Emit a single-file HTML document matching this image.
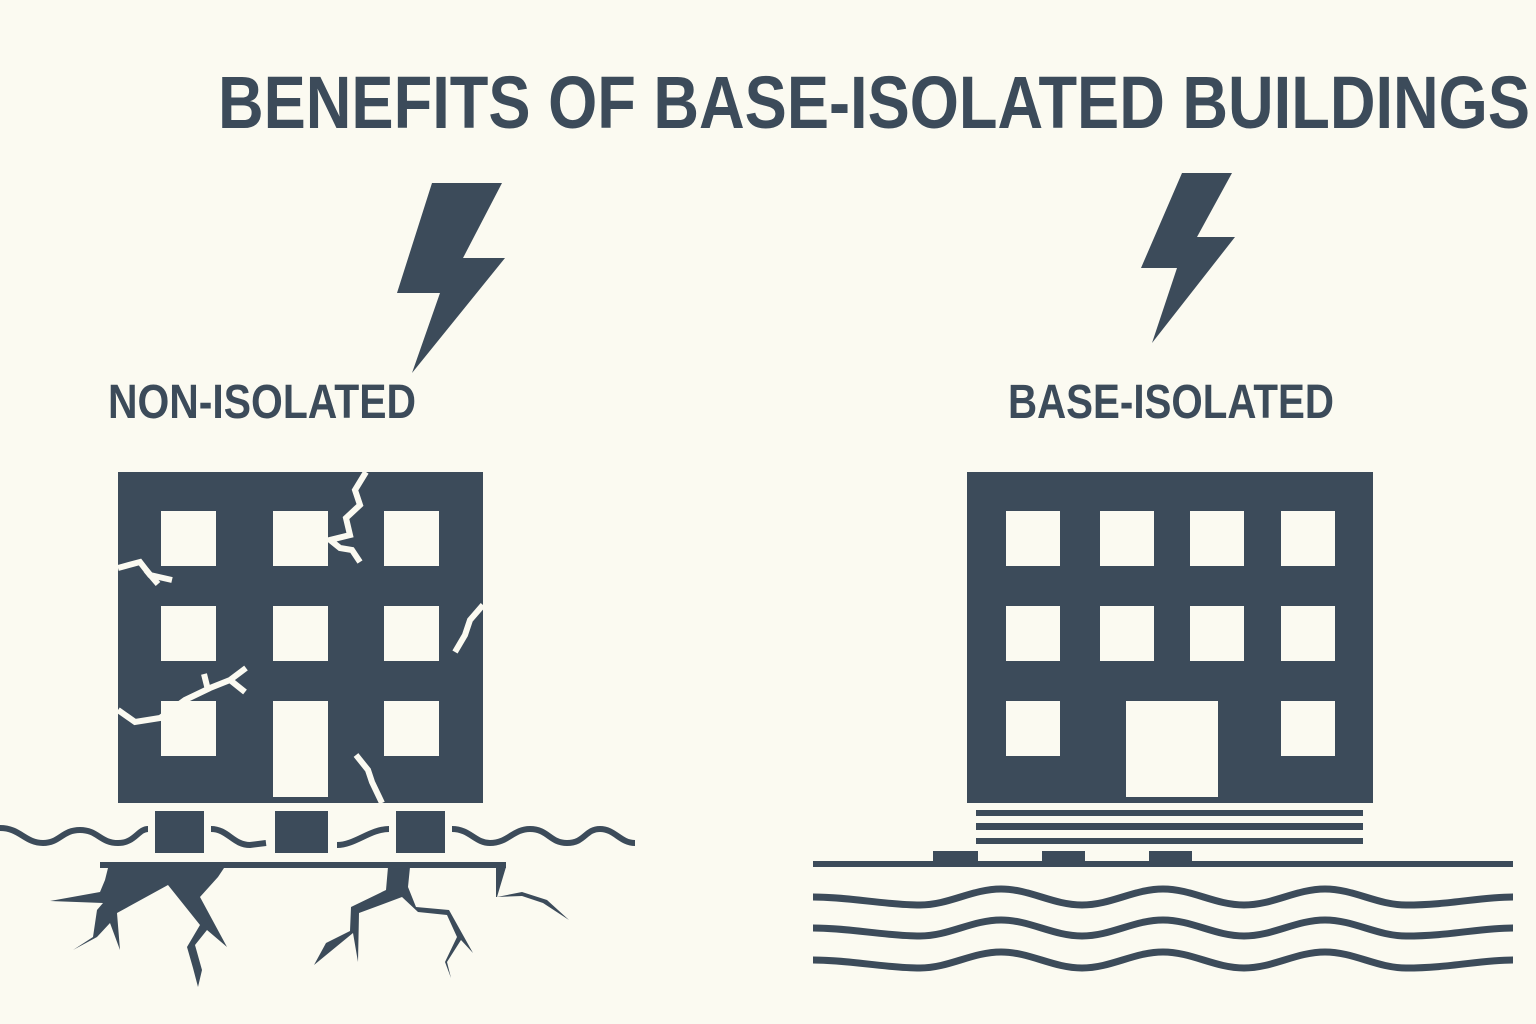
<!DOCTYPE html>
<html><head><meta charset="utf-8"><style>
html,body{margin:0;padding:0;background:#fbfaf1;}
svg{display:block}
</style></head><body>
<svg width="1536" height="1024" viewBox="0 0 1536 1024" xmlns="http://www.w3.org/2000/svg">
<rect width="1536" height="1024" fill="#fbfaf1"/>
<g fill="#3c4b5a" font-family="Liberation Sans, sans-serif" font-weight="bold">
<text x="218" y="128" font-size="74" textLength="1312" lengthAdjust="spacingAndGlyphs">BENEFITS OF BASE-ISOLATED BUILDINGS</text>
<text x="108" y="418" font-size="48" textLength="308" lengthAdjust="spacingAndGlyphs">NON-ISOLATED</text>
<text x="1008" y="418" font-size="48" textLength="326" lengthAdjust="spacingAndGlyphs">BASE-ISOLATED</text>
</g>
<g fill="#3c4b5a">
<polygon points="432,183 502,183 463,258 505,258 412,373 440,293 397,293"/>
<polygon points="1182,173 1232,173 1197,237 1235,237 1152,343 1177,268 1141,268"/>
<rect x="118" y="472" width="365" height="331"/>
<rect x="967" y="472" width="406" height="331"/>
</g>
<g fill="#fbfaf1">
<rect x="161" y="511" width="55" height="55"/><rect x="273" y="511" width="55" height="55"/><rect x="384" y="511" width="55" height="55"/>
<rect x="161" y="606" width="55" height="55"/><rect x="273" y="606" width="55" height="55"/><rect x="384" y="606" width="55" height="55"/>
<rect x="161" y="701" width="55" height="55"/><rect x="273" y="701" width="55" height="96"/><rect x="384" y="701" width="55" height="55"/>
<rect x="1006" y="511" width="54" height="55"/><rect x="1100" y="511" width="54" height="55"/><rect x="1190" y="511" width="54" height="55"/><rect x="1281" y="511" width="54" height="55"/>
<rect x="1006" y="606" width="54" height="55"/><rect x="1100" y="606" width="54" height="55"/><rect x="1190" y="606" width="54" height="55"/><rect x="1281" y="606" width="54" height="55"/>
<rect x="1006" y="701" width="54" height="55"/><rect x="1126" y="701" width="92" height="96"/><rect x="1281" y="701" width="54" height="55"/>
</g>
<g fill="none" stroke="#fbfaf1" stroke-width="6">
<polyline points="366,472 355,490 360,505 346,518 350,535 330,540 340,548 352,550 360,562"/>
<polyline points="118,568 140,562 150,575 172,580"/>
<polyline points="146,570 158,584"/>
<polyline points="483,605 470,620 465,635 455,652"/>
<polyline points="118,710 135,722 160,718 185,700 210,688 230,680 246,668"/>
<polyline points="230,680 245,692"/>
<polyline points="208,690 204,674"/>
<polyline points="356,755 368,770 372,782 382,803"/>
</g>
<g fill="#3c4b5a">
<rect x="155" y="811" width="49" height="42"/>
<rect x="275" y="811" width="53" height="42"/>
<rect x="396" y="811" width="49" height="42"/>
<rect x="100" y="862" width="406" height="6"/>
<polygon points="108,868 224,868 218,877 200,897 227,947 207,930 195,945 202,970 198,987 193,968 187,947 200,925 168,885 117,913 120,950 110,923 97,937 73,950 93,937 97,910 103,903 50,901 100,892 105,880"/>
<polygon points="388,867 410,867 408,887 416,907 449,910 473,953 461,940 447,962 451,978 445,962 457,937 447,915 418,912 402,897 359,913 358,962 353,933 314,965 326,943 350,931 351,907 386,890"/>
<polygon points="496,867 506,867 497,897 497,897 522,892 547,900 569,920 543,903 522,896 496,897"/>
</g>
<g fill="none" stroke="#3c4b5a" stroke-width="6">
<path d="M0,828 C20,828 25,843 43,843 C60,843 62,830 80,830 C98,830 100,843 118,843 C135,843 138,829 148,829"/>
<path d="M211,829 C228,829 233,845 250,845 L266,843"/>
<path d="M337,845 C355,845 370,829 389,829"/>
<path d="M452,829 C470,829 475,843 490,843 C508,843 513,829 530,829 C548,829 550,843 567,843 C585,843 585,829 600,829 C615,829 620,843 635,843"/>
</g>
<g fill="#3c4b5a">
<rect x="976" y="810" width="387" height="6"/>
<rect x="976" y="823" width="387" height="7"/>
<rect x="976" y="838" width="387" height="6"/>
<rect x="813" y="861" width="700" height="6"/>
<rect x="933" y="851" width="45" height="12"/>
<rect x="1042" y="851" width="43" height="12"/>
<rect x="1149" y="851" width="43" height="12"/>
</g>
<g fill="none" stroke="#3c4b5a" stroke-width="7">
<path id="w" d="M813,897 C850,897 885,905 920,905 C949,905 972,889 1001,889 C1030,889 1053,905 1082,905 C1111,905 1134,889 1163,889 C1192,889 1215,905 1244,905 C1273,905 1296,889 1325,889 C1354,889 1377,905 1406,905 C1450,905 1480,897 1513,897"/>
<use href="#w" y="31"/>
<use href="#w" y="63"/>
</g>
</svg>
</body></html>
